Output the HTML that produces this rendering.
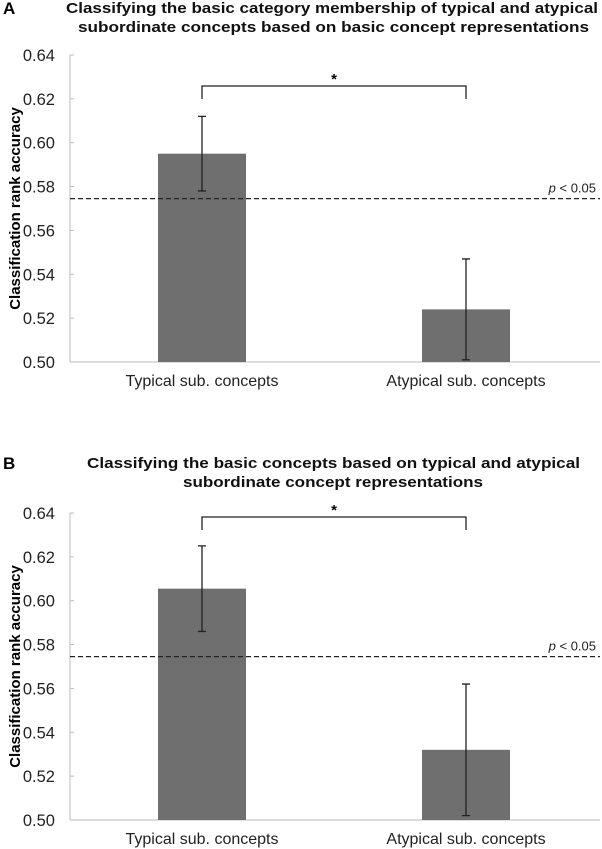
<!DOCTYPE html>
<html><head><meta charset="utf-8"><style>
html,body{margin:0;padding:0;background:#fff;}
svg{display:block;font-family:"Liberation Sans",Arial,sans-serif;}
</style></head><body>
<svg id="c" width="602" height="849" viewBox="0 0 602 849"></svg>
<script>
const categories=["Typical sub. concepts","Atypical sub. concepts"];
const valuesA=[0.595,0.524];
const errHiA=[0.612,0.547];
const errLoA=[0.578,0.501];
const valuesB=[0.6055,0.532];
const errHiB=[0.625,0.562];
const errLoB=[0.586,0.502];
const ticks=[0.50,0.52,0.54,0.56,0.58,0.60,0.62,0.64];
const tickLabels=["0.50","0.52","0.54","0.56","0.58","0.60","0.62","0.64"];
const threshold=0.5745;
const svg=document.getElementById('c');
const NS='http://www.w3.org/2000/svg';
function mk(t,a,txt){const e=document.createElementNS(NS,t);for(const k in a)e.setAttribute(k,a[k]);if(txt!==undefined)e.textContent=txt;svg.appendChild(e);return e;}
function panel(p){
  const y=v=>p.y0-(v-0.50)/0.14*(p.y0-p.y1);
  const xc=i=>[202,466][i];
  let e=mk('text',{x:3,y:p.titleY[0]+1,'font-size':17,'font-weight':'bold'},p.letter);
  
  
  p.title.forEach((t,i)=>{e=mk('text',{x:p.titleX[i][0],y:p.titleY[i],'font-size':15,'font-weight':'bold',textLength:p.titleX[i][1]-p.titleX[i][0],lengthAdjust:'spacingAndGlyphs',fill:'#111'},t);
    
    });
  e=mk('line',{x1:70,y1:p.y1,x2:70,y2:p.y0,stroke:'#bbb','stroke-width':1});
  
  
  e=mk('line',{x1:70,y1:p.y0,x2:600,y2:p.y0,stroke:'#bbb','stroke-width':1});
  
  
  ticks.forEach((t,i)=>{
    e=mk('line',{x1:70,y1:y(t),x2:74,y2:y(t),stroke:'#bbb'});
    
    
    e=mk('text',{x:55,y:y(t)+6,'font-size':16.5,'text-anchor':'end',fill:'#222'},tickLabels[i]);
    
    
  });
  e=mk('text',{x:0,y:0,'font-size':15,'font-weight':'bold','text-anchor':'middle',transform:`translate(20,${(p.y0+p.y1)/2}) rotate(-90)`},'Classification rank accuracy');
  
  
  p.vals.forEach((v,i)=>{
    e=mk('rect',{x:xc(i)-44,y:y(v),width:88,height:p.y0-y(v),fill:'#6f6f6f'});
    
    
    e=mk('path',{d:`M${xc(i)} ${y(p.hi[i])}V${y(p.lo[i])}M${xc(i)-4} ${y(p.hi[i])}H${xc(i)+4}M${xc(i)-4} ${y(p.lo[i])}H${xc(i)+4}`,stroke:'#222','stroke-width':1.3,fill:'none'});
    
    
    e=mk('text',{x:xc(i),y:p.y0+24,'font-size':16,'text-anchor':'middle',fill:'#222'},categories[i]);
    
    
  });
  e=mk('line',{x1:70,y1:y(threshold),x2:600,y2:y(threshold),stroke:'#222','stroke-width':1.2,'stroke-dasharray':'5,3'});
  
  
  e=mk('text',{x:596,y:y(threshold)-6,'font-size':13,'text-anchor':'end',fill:'#222'},'');
  e.innerHTML='<tspan font-style="italic">p</tspan> &lt; 0.05';
  
  
  e=mk('path',{d:`M202 ${p.br+13}V${p.br}H466V${p.br+13}`,stroke:'#222','stroke-width':1.3,fill:'none'});
  
  
  e=mk('text',{x:334,y:p.br-2,'font-size':15,'font-weight':'bold','text-anchor':'middle'},'*');
  
  
}
panel({letter:'A',titleY:[13,32],titleX:[[66,598],[78,589]],title:['Classifying the basic category membership of typical and atypical','subordinate concepts based on basic concept representations'],y0:362,y1:55,vals:valuesA,hi:errHiA,lo:errLoA,br:86});
panel({letter:'B',titleY:[468,487],titleX:[[87,580],[183,483]],title:['Classifying the basic concepts based on typical and atypical','subordinate concept representations'],y0:820,y1:513,vals:valuesB,hi:errHiB,lo:errLoB,br:517});
</script>
</body></html>
